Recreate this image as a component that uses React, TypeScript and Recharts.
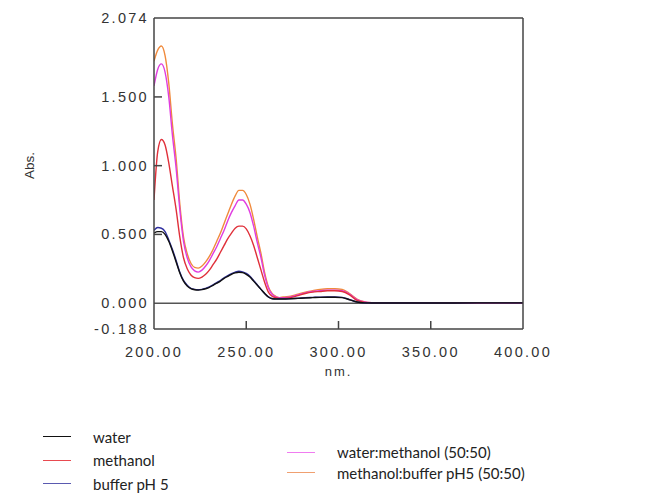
import { LineChart, Line, XAxis, YAxis, ReferenceLine, Label } from 'recharts';

const wavelengths = [
  200, 202, 204, 206, 208, 210, 212, 214, 216, 218, 220, 222, 224, 226, 228, 230, 232, 234, 236, 238,
  240, 242, 244, 246, 248, 250, 252, 254, 256, 258, 260, 262, 264, 266, 268, 270, 274, 278, 282, 286,
  290, 294, 298, 302, 306, 310, 314, 318, 325, 350, 375, 400,
];

const water = [
  0.51, 0.52, 0.52, 0.5, 0.45, 0.38, 0.3, 0.22, 0.16, 0.125, 0.105, 0.097, 0.095, 0.098, 0.105, 0.115, 0.13, 0.145, 0.16, 0.18,
  0.195, 0.21, 0.22, 0.225, 0.222, 0.21, 0.19, 0.16, 0.13, 0.1, 0.07, 0.045, 0.032, 0.03, 0.03, 0.03, 0.032, 0.035, 0.038, 0.04,
  0.042, 0.043, 0.043, 0.04, 0.025, 0.008, 0.002, 0.001, 0.001, 0.001, 0.002, 0.002,
];

const methanol = [
  0.75, 1.1, 1.19, 1.15, 1.02, 0.85, 0.68, 0.48, 0.33, 0.25, 0.205, 0.185, 0.18, 0.19, 0.21, 0.24, 0.28, 0.32, 0.37, 0.42,
  0.47, 0.51, 0.545, 0.56, 0.56, 0.54, 0.49, 0.42, 0.33, 0.24, 0.15, 0.08, 0.05, 0.04, 0.035, 0.035, 0.04, 0.055, 0.07, 0.08,
  0.085, 0.09, 0.09, 0.085, 0.06, 0.02, 0.006, 0.002, 0.002, 0.002, 0.003, 0.003,
];

const bufferPH5 = [
  0.53, 0.55, 0.545, 0.52, 0.46, 0.39, 0.31, 0.225, 0.165, 0.13, 0.108, 0.1, 0.097, 0.1, 0.108, 0.118, 0.133, 0.15, 0.165, 0.185,
  0.2, 0.215, 0.226, 0.232, 0.228, 0.216, 0.195, 0.165, 0.133, 0.1, 0.07, 0.046, 0.034, 0.031, 0.031, 0.031, 0.033, 0.036, 0.04, 0.042,
  0.044, 0.045, 0.045, 0.042, 0.026, 0.009, 0.002, 0.001, 0.001, 0.001, 0.002, 0.002,
];

const waterMethanol = [
  1.58, 1.7, 1.74, 1.68, 1.5, 1.22, 0.98, 0.68, 0.45, 0.33, 0.265, 0.235, 0.226, 0.24, 0.27, 0.31, 0.36, 0.41, 0.47, 0.53,
  0.6, 0.66, 0.71, 0.75, 0.75, 0.72, 0.66, 0.56, 0.44, 0.33, 0.2, 0.11, 0.065, 0.045, 0.04, 0.04, 0.045, 0.06, 0.075, 0.085,
  0.09, 0.095, 0.095, 0.09, 0.065, 0.025, 0.008, 0.003, 0.002, 0.002, 0.003, 0.003,
];

const methanolBuffer = [
  1.76, 1.84, 1.87, 1.8, 1.6, 1.3, 1.05, 0.72, 0.48, 0.36, 0.29, 0.26, 0.255, 0.27, 0.3, 0.34, 0.39, 0.45, 0.51, 0.58,
  0.65, 0.72, 0.78, 0.82, 0.82, 0.79, 0.72, 0.61, 0.48, 0.36, 0.22, 0.12, 0.07, 0.05, 0.04, 0.045, 0.05, 0.065, 0.08, 0.09,
  0.1, 0.105, 0.105, 0.1, 0.07, 0.03, 0.01, 0.003, 0.002, 0.002, 0.003, 0.004,
];

const xTicks = [200, 250, 300, 350, 400];
const xTickMarks = [250, 300, 350];
const yTicks = [-0.188, 0, 0.5, 1, 1.5, 2, 2.074];
const yTickLabels = [-0.188, 0, 0.5, 1, 1.5, 2.074];
const yTickMarks = [0.5, 1, 1.5, 2];

const data = wavelengths.map((nm, i) => ({
  nm,
  water: water[i],
  methanol: methanol[i],
  bufferPH5: bufferPH5[i],
  waterMethanol: waterMethanol[i],
  methanolBuffer: methanolBuffer[i],
}));

const tickFont = { fontSize: 14.5, fill: '#333', fontFamily: 'Liberation Sans, Arial, sans-serif', letterSpacing: 2.3 };
const axisColor = '#444';
const markLen = 8;

const legendLeft = [
  { name: 'water', color: '#111' },
  { name: 'methanol', color: '#e84a50' },
  { name: 'buffer pH 5', color: '#5a5ab0' },
];
const legendRight = [
  { name: 'water:methanol (50:50)', color: '#f07cf0' },
  { name: 'methanol:buffer pH5 (50:50)', color: '#f0a070' },
];

// tickMargin is 0 on every axis, so x/y here sit right on the axis line
function BottomTick({ x, y, payload }: any) {
  const v = payload.value;
  return (
    <g>
      {xTickMarks.includes(v) && <line x1={x} x2={x} y1={y} y2={y - markLen} stroke={axisColor} strokeWidth={1.5} />}
      <text x={x} y={y + 28} textAnchor="middle" style={tickFont}>
        {v.toFixed(2)}
      </text>
    </g>
  );
}

function TopTick({ x, y, payload }: any) {
  if (!xTickMarks.includes(payload.value)) return <g />;
  return <line x1={x} x2={x} y1={y} y2={y + markLen} stroke={axisColor} strokeWidth={1.5} />;
}

function LeftTick({ x, y, payload }: any) {
  const v = payload.value;
  return (
    <g>
      {yTickMarks.includes(v) && <line x1={x} x2={x + markLen} y1={y} y2={y} stroke={axisColor} strokeWidth={1.5} />}
      {yTickLabels.includes(v) && (
        <text x={x - 5} y={y + 5} textAnchor="end" style={tickFont}>
          {v.toFixed(3)}
        </text>
      )}
    </g>
  );
}

function RightTick({ x, y, payload }: any) {
  if (!yTickMarks.includes(payload.value)) return <g />;
  return <line x1={x} x2={x - markLen} y1={y} y2={y} stroke={axisColor} strokeWidth={1.5} />;
}

function LegendRow({ name, color, height }: { name: string; color: string; height: number }) {
  return (
    <div style={{ display: 'flex', alignItems: 'center', height }}>
      <div style={{ width: 28, height: 0, borderTop: `1.5px solid ${color}`, marginRight: 22 }} />
      <span>{name}</span>
    </div>
  );
}

export default function App() {
  return (
    <div style={{ width: 639, height: 491, position: 'relative' }}>
      <LineChart width={560} height={381} data={data} margin={{ top: 9, right: 44, left: 10, bottom: 10 }}>
        <XAxis
          dataKey="nm"
          type="number"
          domain={[200, 400]}
          ticks={xTicks}
          tick={<BottomTick />}
          tickLine={false}
          tickSize={0}
          tickMargin={0}
          stroke={axisColor}
          strokeWidth={1.5}
          height={50}
          allowDataOverflow
        >
          <Label
            value="nm."
            position="insideBottom"
            offset={3}
            style={{ fontSize: 13, fill: '#333', fontFamily: 'Liberation Sans, Arial, sans-serif', letterSpacing: 2 }}
          />
        </XAxis>
        <XAxis
          xAxisId="top"
          orientation="top"
          type="number"
          domain={[200, 400]}
          ticks={xTicks}
          tick={<TopTick />}
          tickLine={false}
          tickSize={0}
          tickMargin={0}
          stroke={axisColor}
          strokeWidth={1.5}
          height={1}
        />
        <YAxis
          type="number"
          domain={[-0.188, 2.074]}
          ticks={yTicks}
          tick={<LeftTick />}
          tickLine={false}
          tickSize={0}
          tickMargin={0}
          stroke={axisColor}
          strokeWidth={1.5}
          width={136}
          allowDataOverflow
        >
          <Label
            content={({ viewBox }: any) => {
              const cx = viewBox.x + 11;
              const cy = viewBox.y + viewBox.height / 2 - 8;
              return (
                <text
                  x={cx}
                  y={cy}
                  transform={`rotate(-90 ${cx} ${cy})`}
                  textAnchor="middle"
                  dominantBaseline="central"
                  style={{ fontSize: 13.5, fill: '#333', fontFamily: 'Liberation Sans, Arial, sans-serif' }}
                >
                  Abs.
                </text>
              );
            }}
          />
        </YAxis>
        <YAxis
          yAxisId="right"
          orientation="right"
          type="number"
          domain={[-0.188, 2.074]}
          ticks={yTicks}
          tick={<RightTick />}
          tickLine={false}
          tickSize={0}
          tickMargin={0}
          stroke={axisColor}
          strokeWidth={1.5}
          width={1}
        />
        <ReferenceLine y={0} stroke="#555" strokeWidth={1.5} />
        <Line type="monotone" dataKey="methanolBuffer" stroke="#f08a3c" strokeWidth={1.4} dot={false} isAnimationActive={false} />
        <Line type="monotone" dataKey="waterMethanol" stroke="#e03ce0" strokeWidth={1.4} dot={false} isAnimationActive={false} />
        <Line type="monotone" dataKey="methanol" stroke="#e0303a" strokeWidth={1.4} dot={false} isAnimationActive={false} />
        <Line type="monotone" dataKey="bufferPH5" stroke="#3030a0" strokeWidth={1.4} dot={false} isAnimationActive={false} />
        <Line type="monotone" dataKey="water" stroke="#111" strokeWidth={1.4} dot={false} isAnimationActive={false} />
      </LineChart>
      <div
        style={{
          position: 'absolute',
          top: 417,
          left: 35,
          fontFamily: 'Lato, sans-serif',
          fontSize: 15,
          color: '#222',
        }}
      >
        {legendLeft.map((d) => (
          <LegendRow key={d.name} name={d.name} color={d.color} height={23.5} />
        ))}
      </div>
      <div
        style={{
          position: 'absolute',
          top: 434,
          left: 279,
          fontFamily: 'Lato, sans-serif',
          fontSize: 15,
          color: '#222',
        }}
      >
        {legendRight.map((d) => (
          <LegendRow key={d.name} name={d.name} color={d.color} height={20.5} />
        ))}
      </div>
    </div>
  );
}
